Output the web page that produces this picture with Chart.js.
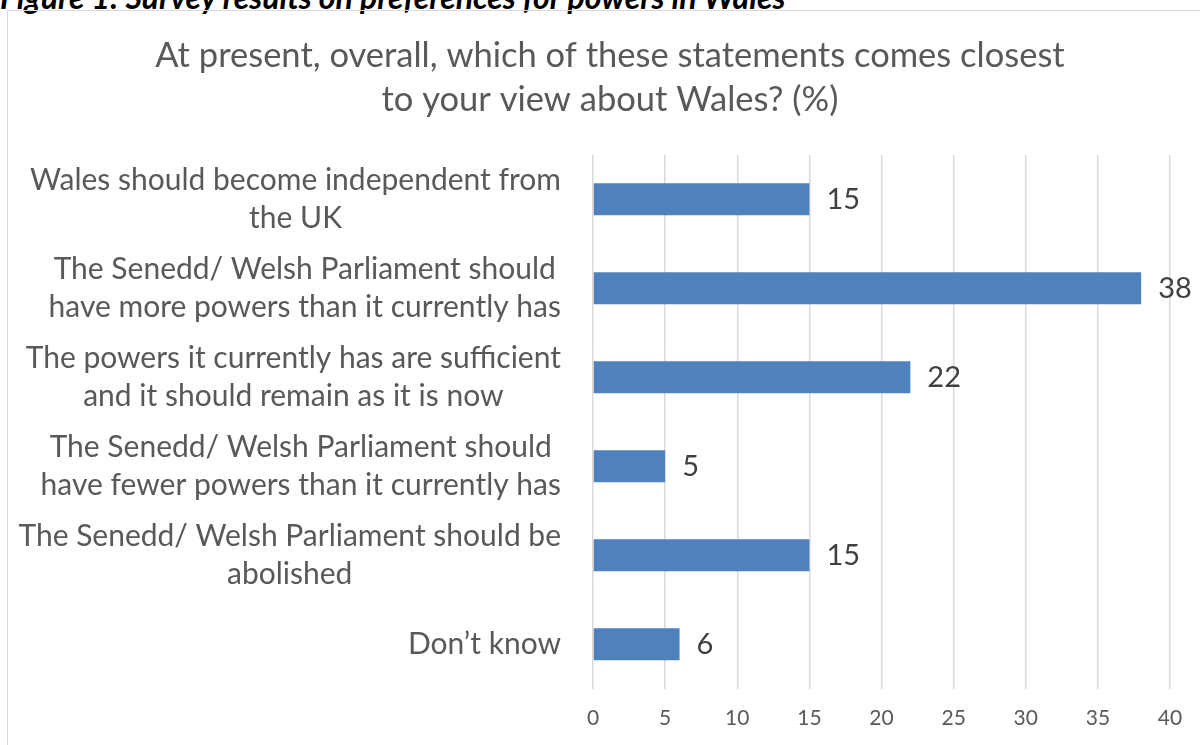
<!DOCTYPE html>
<html lang="en">
<head>
    <meta charset="UTF-8">
    <title>Survey results on preferences for powers in Wales</title>
    <script src="https://cdn.jsdelivr.net/npm/chart.js"></script>
    <style>
        body {
            margin: 0;
            background-color: #fff;
            width: 1200px;
            height: 745px;
            overflow: hidden;
            position: relative;
            font-family: Lato, sans-serif;
        }

        .caption {
            position: absolute;
            left: 0;
            top: -22px;
            font-size: 32px;
            line-height: 37px;
            font-weight: bold;
            font-style: italic;
            color: #000;
            white-space: nowrap;
        }

        .frame {
            position: absolute;
            left: 7px;
            top: 10px;
            width: 1210px;
            height: 760px;
            border: 1.5px solid #d9d9d9;
            background-color: transparent;
        }

        .chart-box {
            position: absolute;
            left: 0;
            top: 0;
            width: 1200px;
            height: 765px;
        }
    </style>
</head>
<body>
    <div class="caption">Figure 1: Survey results on preferences for powers in Wales</div>
    <div class="frame"></div>
    <div class="chart-box">
        <canvas id="myChart" width="1200" height="765"></canvas>
    </div>

    <script>
        const chartTitle = [
            'At present, overall, which of these statements comes closest',
            'to your view about Wales? (%)'
        ];
        const categories = [
            ['Wales should become independent from', 'the UK'],
            ['The Senedd/ Welsh Parliament should', 'have more powers than it currently has'],
            ['The powers it currently has are sufficient', 'and it should remain as it is now'],
            ['The Senedd/ Welsh Parliament should', 'have fewer powers than it currently has'],
            ['The Senedd/ Welsh Parliament should be', 'abolished'],
            ['Don\u2019t know']
        ];
        const values = [15, 38, 22, 5, 15, 6];
        const xTicks = [0, 5, 10, 15, 20, 25, 30, 35, 40];

        // category labels: block right-aligned to the axis, lines centred inside the block
        const categoryLabels = {
            id: 'categoryLabels',
            afterDraw(chart) {
                const ctx = chart.ctx;
                const yScale = chart.scales.y;
                const right = chart.chartArea.left - 32;
                ctx.save();
                ctx.font = '30px Lato';
                ctx.fillStyle = '#595959';
                ctx.textAlign = 'center';
                ctx.textBaseline = 'middle';
                categories.forEach((lines, i) => {
                    const y = yScale.getPixelForValue(i);
                    let maxW = 0;
                    lines.forEach(l => { maxW = Math.max(maxW, ctx.measureText(l).width); });
                    const cx = right - maxW / 2;
                    lines.forEach((l, j) => {
                        ctx.fillText(l, cx, y + (j - (lines.length - 1) / 2) * 38);
                    });
                });
                ctx.restore();
            }
        };

        // value labels at the end of each bar
        const valueLabels = {
            id: 'valueLabels',
            afterDatasetsDraw(chart) {
                const ctx = chart.ctx;
                const meta = chart.getDatasetMeta(0);
                ctx.save();
                ctx.font = '29px Lato';
                ctx.fillStyle = '#404040';
                ctx.textAlign = 'left';
                ctx.textBaseline = 'middle';
                meta.data.forEach((bar, i) => {
                    ctx.fillText(String(values[i]), bar.x + 17, bar.y);
                });
                ctx.restore();
            }
        };

        const ctx = document.getElementById('myChart').getContext('2d');
        const myChart = new Chart(ctx, {
            type: 'bar',
            data: {
                labels: categories,
                datasets: [{
                    data: values,
                    backgroundColor: '#4f81bd',
                    categoryPercentage: 1,
                    barPercentage: 0.36
                }]
            },
            options: {
                indexAxis: 'y',
                responsive: false,
                animation: false,
                layout: {
                    padding: { left: 50, right: 30, top: 0, bottom: 17 }
                },
                plugins: {
                    legend: { display: false },
                    tooltip: { enabled: false },
                    title: {
                        display: true,
                        text: chartTitle,
                        color: '#595959',
                        font: { family: 'Lato', size: 34.5, weight: 'normal', lineHeight: 1.3 },
                        padding: { top: 33, bottom: 32 }
                    }
                },
                scales: {
                    x: {
                        min: 0,
                        max: 40,
                        afterBuildTicks: scale => {
                            scale.ticks = xTicks.map(v => ({ value: v }));
                        },
                        grid: { color: '#d9d9d9', lineWidth: 1.5, drawTicks: false },
                        border: { display: false },
                        ticks: {
                            color: '#595959',
                            font: { family: 'Lato', size: 21 },
                            padding: 17
                        }
                    },
                    y: {
                        grid: { display: false },
                        border: { display: false },
                        ticks: { display: false },
                        afterFit: scale => { scale.width = 543; }
                    }
                }
            },
            plugins: [categoryLabels, valueLabels]
        });
    </script>
</body>
</html>
